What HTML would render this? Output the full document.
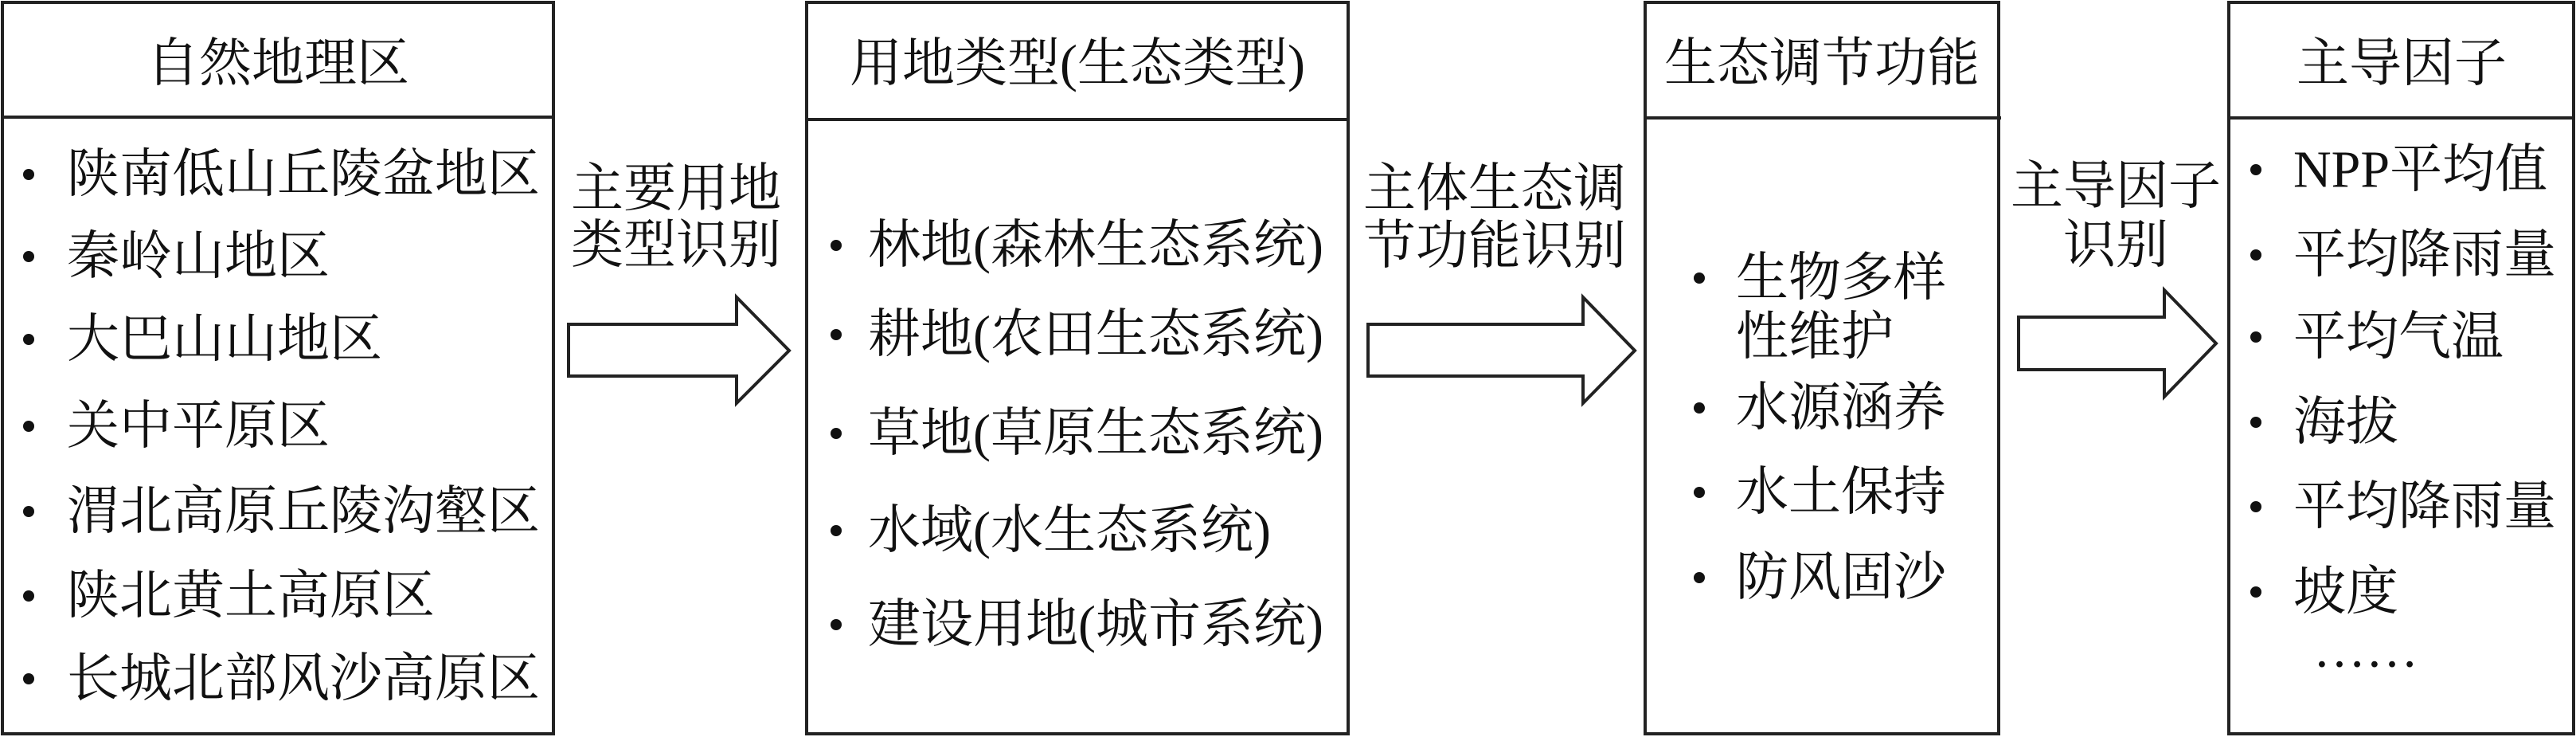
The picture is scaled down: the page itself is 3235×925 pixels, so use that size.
<!DOCTYPE html>
<html><head><meta charset="utf-8"><style>
html,body{margin:0;padding:0;background:#fff;}
svg{display:block;}
text{font-family:"Liberation Serif","Noto Serif CJK SC",serif;font-size:66px;fill:#111;dominant-baseline:central;}
</style></head><body>
<svg width="3235" height="925" viewBox="0 0 3235 925" xmlns="http://www.w3.org/2000/svg">
<g fill="none" stroke="#222" stroke-width="4">
<rect x="3" y="3" width="692" height="918"/>
<line x1="3" y1="147" x2="695" y2="147"/>
<rect x="1013" y="3" width="680" height="918"/>
<line x1="1013" y1="150" x2="1693" y2="150"/>
<rect x="2066" y="3" width="444" height="918"/>
<line x1="2066" y1="148" x2="2513" y2="148"/>
<rect x="2799" y="3" width="433" height="918"/>
<line x1="2799" y1="148" x2="3232" y2="148"/>
<polygon points="714,407 925,407 925,373 991,440 925,506 925,472 714,472"/>
<polygon points="1718,407 1988,407 1988,373 2053,440 1988,506 1988,472 1718,472"/>
<polygon points="2535,398 2718,398 2718,364 2783,431 2718,498 2718,464 2535,464"/>
</g>
<g fill="#111">
<circle cx="36" cy="219" r="7"/><circle cx="36" cy="322" r="7"/><circle cx="36" cy="426" r="7"/><circle cx="36" cy="535" r="7"/><circle cx="36" cy="642" r="7"/><circle cx="36" cy="748" r="7"/><circle cx="36" cy="852" r="7"/>
<circle cx="1050" cy="308" r="7"/><circle cx="1050" cy="420" r="7"/><circle cx="1050" cy="544" r="7"/><circle cx="1050" cy="666" r="7"/><circle cx="1050" cy="784" r="7"/>
<circle cx="2134" cy="349" r="7"/><circle cx="2134" cy="512" r="7"/><circle cx="2134" cy="618" r="7"/><circle cx="2134" cy="725" r="7"/>
<circle cx="2833" cy="213" r="7"/><circle cx="2833" cy="320" r="7"/><circle cx="2833" cy="423" r="7"/><circle cx="2833" cy="530" r="7"/><circle cx="2833" cy="636" r="7"/><circle cx="2833" cy="743" r="7"/>
</g>
<text x="349" y="80" text-anchor="middle">自然地理区</text>
<text x="84" y="219">陕南低山丘陵盆地区</text>
<text x="84" y="322">秦岭山地区</text>
<text x="84" y="426">大巴山山地区</text>
<text x="84" y="535">关中平原区</text>
<text x="84" y="642">渭北高原丘陵沟壑区</text>
<text x="84" y="748">陕北黄土高原区</text>
<text x="84" y="852">长城北部风沙高原区</text>
<text x="849" y="237" text-anchor="middle">主要用地</text>
<text x="849" y="308" text-anchor="middle">类型识别</text>
<text x="1353" y="80" text-anchor="middle">用地类型(生态类型)</text>
<text x="1090" y="308">林地(森林生态系统)</text>
<text x="1090" y="420">耕地(农田生态系统)</text>
<text x="1090" y="544">草地(草原生态系统)</text>
<text x="1090" y="666">水域(水生态系统)</text>
<text x="1090" y="784">建设用地(城市系统)</text>
<text x="1877" y="237" text-anchor="middle">主体生态调</text>
<text x="1877" y="309" text-anchor="middle">节功能识别</text>
<text x="2288" y="80" text-anchor="middle">生态调节功能</text>
<text x="2180" y="349">生物多样</text>
<text x="2180" y="423">性维护</text>
<text x="2180" y="512">水源涵养</text>
<text x="2180" y="618">水土保持</text>
<text x="2180" y="725">防风固沙</text>
<text x="2657" y="234" text-anchor="middle">主导因子</text>
<text x="2657" y="308" text-anchor="middle">识别</text>
<text x="3016" y="80" text-anchor="middle">主导因子</text>
<text x="2880" y="213">NPP平均值</text>
<text x="2880" y="320">平均降雨量</text>
<text x="2880" y="423">平均气温</text>
<text x="2880" y="530">海拔</text>
<text x="2880" y="636">平均降雨量</text>
<text x="2880" y="743">坡度</text>
<text x="2905" y="815">……</text>
</svg>
</body></html>
